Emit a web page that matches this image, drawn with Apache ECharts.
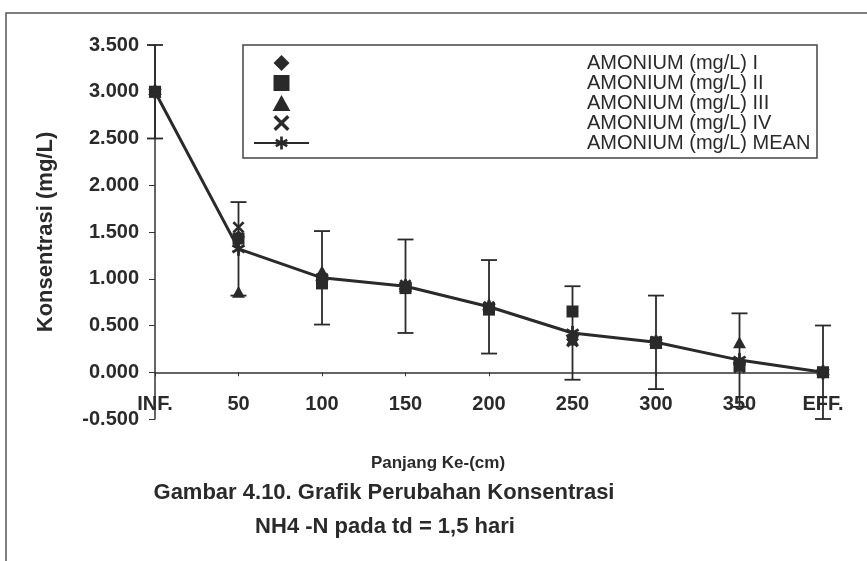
<!DOCTYPE html>
<html><head><meta charset="utf-8">
<script src="https://cdn.jsdelivr.net/npm/echarts@6/dist/echarts.min.js"></script>
<style>html,body{margin:0;padding:0;background:#fff}#c{width:867px;height:561px}</style>
</head><body><div id="c"></div>
<script>
const categories = ['INF.', '50', '100', '150', '200', '250', '300', '350', 'EFF.'];
const amoniumI   = [3.00, 1.45, 1.02, 0.93, 0.70, 0.35, 0.32, 0.08, 0.00];
const amoniumII  = [3.00, 1.43, 0.95, 0.90, 0.67, 0.65, 0.32, 0.07, 0.00];
const amoniumIII = [3.00, 0.86, 1.08, 0.92, 0.72, 0.35, 0.31, 0.32, 0.00];
const amoniumIV  = [3.00, 1.55, 1.00, 0.93, 0.70, 0.33, 0.33, 0.05, 0.00];
const amoniumMean = [3.00, 1.32, 1.01, 0.92, 0.70, 0.42, 0.32, 0.13, 0.00];
const errVals    = [0.5, 0.5, 0.5, 0.5, 0.5, 0.5, 0.5, 0.5, 0.5];
const seriesNames = ['AMONIUM (mg/L) I', 'AMONIUM (mg/L) II', 'AMONIUM (mg/L) III', 'AMONIUM (mg/L) IV', 'AMONIUM (mg/L) MEAN'];

const FONT = "'Liberation Sans', Arial, sans-serif";
const INK = '#2a2a2a';

// symbol shapes
const SYM_DIAMOND = 'path://M5,0 L10,5 L5,10 L0,5 Z';
const SYM_SQUARE = 'path://M0,0 L10,0 L10,10 L0,10 Z';
const SYM_TRIANGLE = 'path://M5,0 L10,9 L0,9 Z';
const SYM_X = 'path://M0,1.5 L1.5,0 L5,3.5 L8.5,0 L10,1.5 L6.5,5 L10,8.5 L8.5,10 L5,6.5 L1.5,10 L0,8.5 L3.5,5 Z';
function asteriskPath() {
  let d = '';
  [90, 30, -30].forEach(a => {
    const r = a * Math.PI / 180, c = Math.cos(r), s = Math.sin(r);
    const L = 5, W = 1.0;
    const pts = [[-L, -W], [L, -W], [L, W], [-L, W]].map(p => [5 + p[0] * c - p[1] * s, 5 + p[0] * s + p[1] * c]);
    d += 'M' + pts.map(p => p[0].toFixed(3) + ',' + p[1].toFixed(3)).join(' L') + ' Z ';
  });
  return 'path://' + d;
}
const SYM_AST = asteriskPath();

const errData = categories.map((c, i) => [i, amoniumMean[i] - errVals[i], amoniumMean[i] + errVals[i]]);

const chart = echarts.init(document.getElementById('c'));
const scatterBase = (name, data, symbol, size) => ({
  name, type: 'scatter', data, symbol, symbolSize: size, symbolKeepAspect: true,
  itemStyle: { color: INK, opacity: 1 }, z: 3
});

chart.setOption({
  backgroundColor: '#ffffff',
  animation: false,
  grid: { left: 155, right: 44, top: 45, bottom: 142 },
  legend: {
    data: seriesNames,
    orient: 'vertical',
    left: 253, top: 53,
    padding: 0,
    itemGap: 0,
    itemWidth: 55, itemHeight: 16,
    symbolKeepAspect: true,
    textStyle: { fontFamily: FONT, fontSize: 20, color: INK, lineHeight: 20, padding: [0, 0, 0, 273] },
    selectedMode: false
  },
  xAxis: {
    type: 'category', data: categories, boundaryGap: false,
    axisLine: { onZero: true, lineStyle: { color: '#333', width: 1.5 } },
    axisTick: { show: true, length: 4, inside: false, lineStyle: { color: '#333' } },
    axisLabel: { margin: -25, fontFamily: FONT, fontSize: 20, fontWeight: 'bold', color: INK, interval: 0 },
    splitLine: { show: false }
  },
  yAxis: {
    type: 'value', min: -0.5, max: 3.5, interval: 0.5,
    name: 'Konsentrasi (mg/L)', nameLocation: 'middle', nameGap: 98,
    nameTextStyle: { fontFamily: FONT, fontSize: 22, fontWeight: 'bold', color: INK, padding: [0, 0, 0, 0] },
    axisLine: { show: true, lineStyle: { color: '#333', width: 1.5 } },
    axisTick: { show: true, length: 6, lineStyle: { color: '#333' } },
    axisLabel: { margin: 16, fontFamily: FONT, fontSize: 20, fontWeight: 'bold', color: INK,
      formatter: v => v.toFixed(3) },
    splitLine: { show: false }
  },
  graphic: [
    { type: 'rect', silent: true, z: -10, shape: { x: 6, y: 13, width: 900, height: 600 },
      style: { fill: 'none', stroke: '#555', lineWidth: 1.5 } },
    { type: 'rect', silent: true, z: -5, shape: { x: 243, y: 45, width: 574, height: 113 },
      style: { fill: 'none', stroke: '#444', lineWidth: 1.5 } },
    { type: 'text', x: 438, y: 463, style: { text: 'Panjang Ke-(cm)', align: 'center', verticalAlign: 'middle',
      font: 'bold 17px ' + FONT, fill: INK } },
    { type: 'text', x: 384, y: 493, style: { text: 'Gambar 4.10. Grafik Perubahan Konsentrasi', align: 'center', verticalAlign: 'middle',
      font: 'bold 22px ' + FONT, fill: INK } },
    { type: 'text', x: 385, y: 527, style: { text: 'NH4 -N pada td = 1,5 hari', align: 'center', verticalAlign: 'middle',
      font: 'bold 22px ' + FONT, fill: INK } }
  ],
  series: [
    {
      name: 'err', type: 'custom', data: errData, encode: { x: 0, y: [1, 2] }, z: 2,
      renderItem(params, api) {
        const x = api.value(0), lo = api.value(1), hi = api.value(2);
        const p1 = api.coord([x, hi]), p2 = api.coord([x, lo]);
        const hw = 8;
        const st = { stroke: INK, lineWidth: 1.8 };
        return { type: 'group', children: [
          { type: 'line', shape: { x1: p1[0], y1: p1[1], x2: p2[0], y2: p2[1] }, style: st },
          { type: 'line', shape: { x1: p1[0] - hw, y1: p1[1], x2: p1[0] + hw, y2: p1[1] }, style: st },
          { type: 'line', shape: { x1: p2[0] - hw, y1: p2[1], x2: p2[0] + hw, y2: p2[1] }, style: st }
        ] };
      }
    },
    scatterBase(seriesNames[0], amoniumI, SYM_DIAMOND, 13),
    scatterBase(seriesNames[1], amoniumII, SYM_SQUARE, 12),
    scatterBase(seriesNames[2], amoniumIII, SYM_TRIANGLE, 13),
    scatterBase(seriesNames[3], amoniumIV, SYM_X, 12),
    {
      name: seriesNames[4], type: 'line', data: amoniumMean,
      symbol: SYM_AST, symbolSize: 14, symbolKeepAspect: true, showSymbol: true,
      lineStyle: { color: INK, width: 3 }, itemStyle: { color: INK }, z: 4
    }
  ]
});
</script></body></html>
